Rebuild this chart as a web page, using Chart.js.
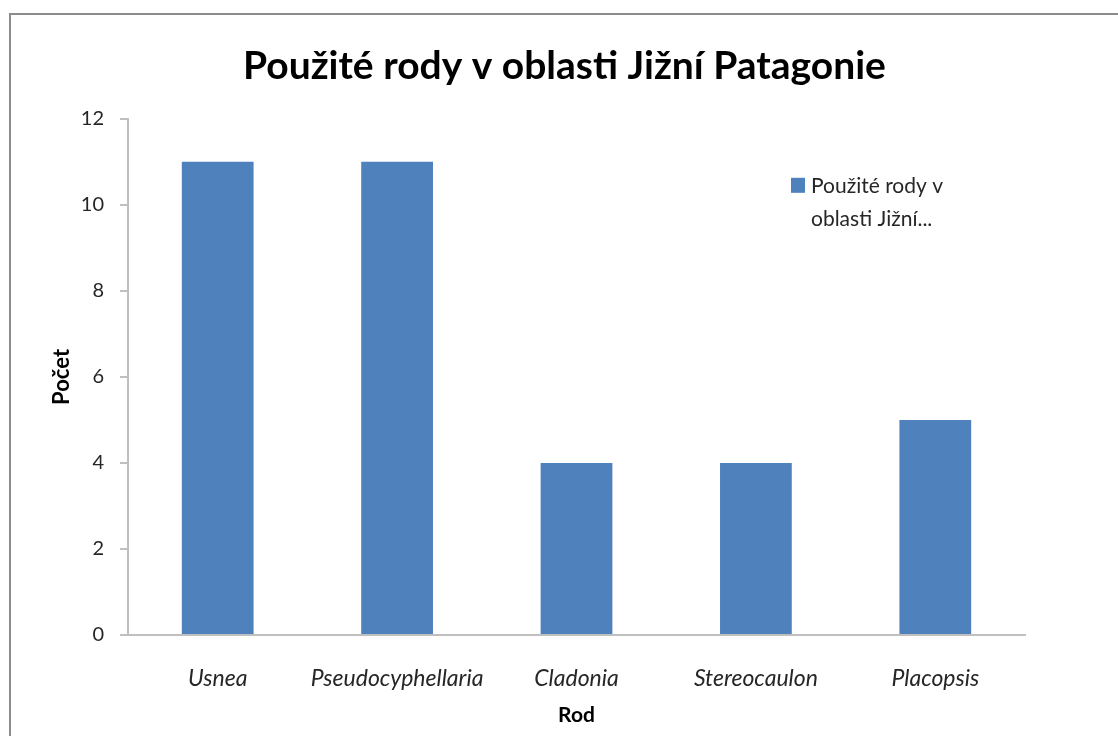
<!DOCTYPE html>
<html>
<head>
<meta charset="utf-8">
<script src="https://cdn.jsdelivr.net/npm/chart.js@4"></script>
<style>
    html, body { margin: 0; padding: 0; background: #fff; overflow: hidden; }
    #frame {
        position: absolute;
        left: 9px;
        top: 13px;
        width: 1107px;
        height: 721px;
        border-left: 2px solid #8c8c8c;
        border-top: 2px solid #8c8c8c;
    }
    #chart { display: block; }
</style>
</head>
<body>
<div id="frame">
    <canvas id="chart" width="1107" height="721"></canvas>
</div>
<script>
const titleText = 'Použité rody v oblasti Jižní Patagonie';
const seriesLabel = 'Použité rody v oblasti Jižní Patagonie';
const legendLines = ['Použité rody v', 'oblasti Jižní...'];
const categories = ['Usnea', 'Pseudocyphellaria', 'Cladonia', 'Stereocaulon', 'Placopsis'];
const counts = [11, 11, 4, 4, 5];
const yTicks = [0, 2, 4, 6, 8, 10, 12];

const barColor = '#4f81bd';
const axisColor = '#bfbfbf';
const textColor = '#262626';

// legend sits inside the plot area, text wrapped on two lines like the original
const wrappedLegend = {
    id: 'wrappedLegend',
    afterDraw(chart) {
        const ctx = chart.ctx;
        const area = chart.chartArea;
        const x = area.right - 234;
        const y = area.top + 59;
        ctx.save();
        ctx.fillStyle = chart.data.datasets[0].backgroundColor;
        ctx.fillRect(x, y, 14, 15);
        ctx.fillStyle = textColor;
        ctx.font = '21px Lato';
        ctx.textBaseline = 'middle';
        legendLines.forEach((line, i) => {
            ctx.fillText(line, x + 20, y + 8 + i * 33);
        });
        ctx.restore();
    }
};

const ctx = document.getElementById('chart').getContext('2d');
new Chart(ctx, {
    type: 'bar',
    data: {
        labels: categories,
        datasets: [{
            label: seriesLabel,
            data: counts,
            backgroundColor: barColor,
            borderWidth: 0,
            barPercentage: 0.4,
            categoryPercentage: 1.0
        }]
    },
    options: {
        responsive: false,
        animation: false,
        layout: { padding: 0 },
        plugins: {
            legend: { display: false },
            tooltip: { enabled: false },
            title: {
                display: true,
                text: titleText,
                color: '#000',
                font: { family: 'Lato', size: 39, weight: 'bold' },
                padding: { top: 28, bottom: 29 }
            }
        },
        scales: {
            x: {
                grid: { display: false },
                border: { display: true, color: axisColor, width: 2 },
                ticks: {
                    color: textColor,
                    padding: 22,
                    maxRotation: 0,
                    font: { family: 'Lato', size: 23, style: 'italic' }
                },
                title: {
                    display: true,
                    text: 'Rod',
                    color: '#000',
                    font: { family: 'Lato', size: 21, weight: 'bold' },
                    padding: { top: 0, bottom: 8 }
                },
                afterFit(scale) { scale.height = 101; }
            },
            y: {
                min: 0,
                max: 12,
                afterBuildTicks(scale) {
                    scale.ticks = yTicks.map(v => ({ value: v }));
                },
                grid: {
                    display: true,
                    drawOnChartArea: false,
                    drawTicks: true,
                    tickLength: 8,
                    color: axisColor,
                    lineWidth: 2
                },
                border: { display: true, color: axisColor, width: 2 },
                ticks: {
                    color: textColor,
                    padding: 16,
                    font: { family: 'Lato', size: 20 }
                },
                title: {
                    display: true,
                    text: 'Počet',
                    color: '#000',
                    font: { family: 'Lato', size: 22, weight: 'bold' },
                    padding: { top: 38, bottom: 0 }
                },
                afterFit(scale) { scale.width = 117; }
            },
            // empty right-hand gutter, keeps the title centred on the whole frame
            gutter: {
                type: 'linear',
                position: 'right',
                display: true,
                grid: { display: false },
                border: { display: false },
                ticks: { display: false },
                afterFit(scale) { scale.width = 93; }
            }
        }
    },
    plugins: [wrappedLegend]
});
</script>
</body>
</html>
